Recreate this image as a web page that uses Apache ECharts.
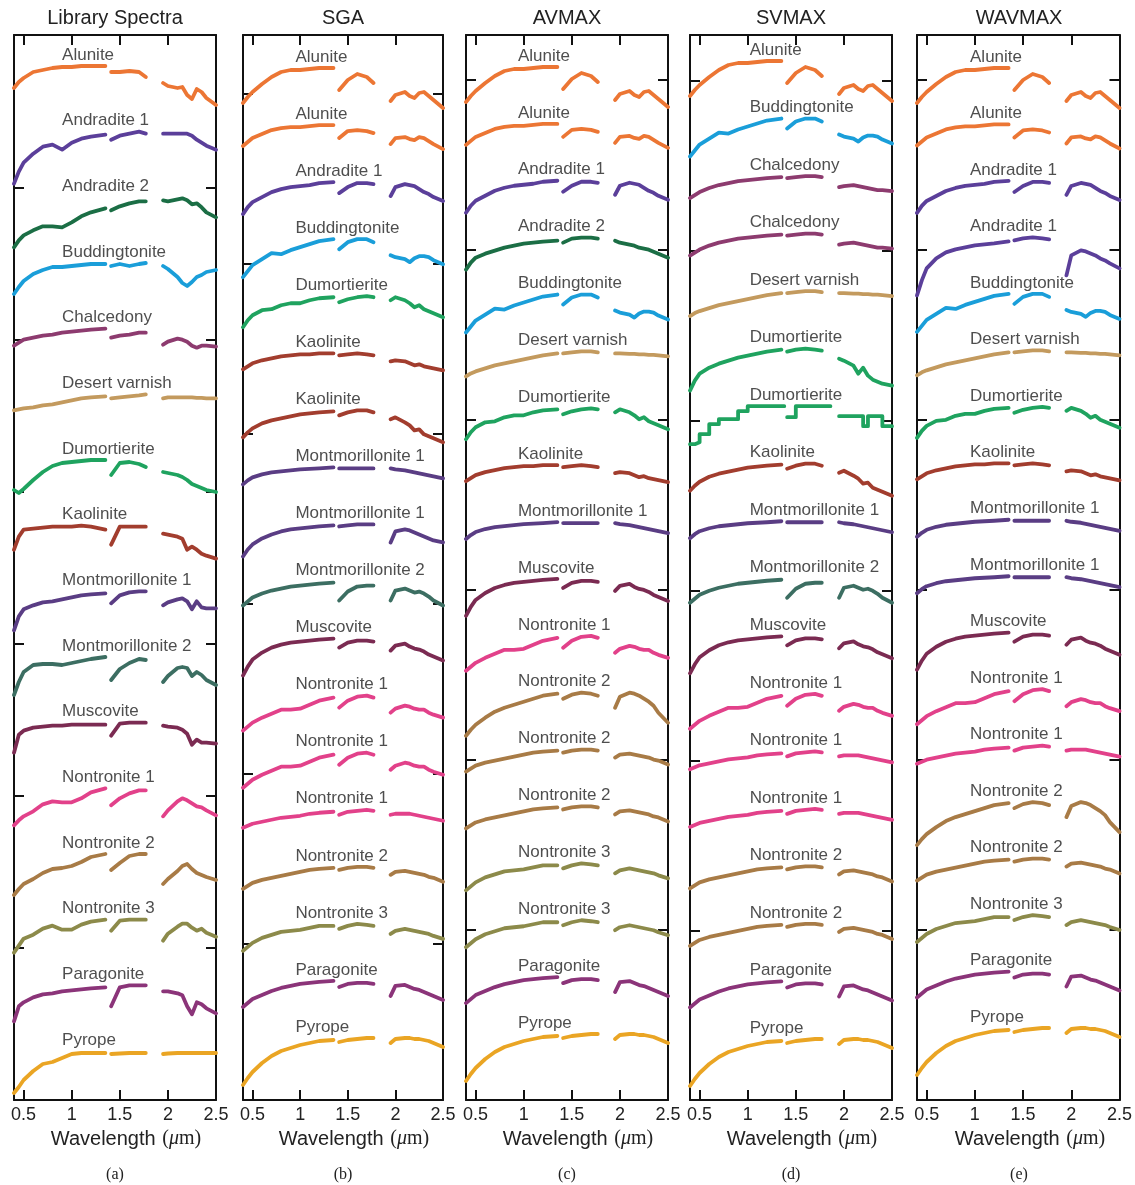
<!DOCTYPE html>
<html>
<head>
<meta charset="utf-8">
<script src="https://cdn.jsdelivr.net/npm/echarts@6/dist/echarts.min.js"></script>
<style>
  html, body { margin: 0; padding: 0; background: #fff; }
  #chart { width: 1135px; height: 1185px; }
</style>
</head>
<body>
<div id="chart"></div>
<script>
// wavelength grid (um); 1.38 and 1.86 are the water-band gaps
const wavelengths = [0.4, 0.45, 0.5, 0.6, 0.7, 0.8, 0.9, 1.0, 1.1, 1.2, 1.35, 1.38,
  1.41, 1.5, 1.6, 1.7, 1.77, 1.86, 1.95, 2.0, 2.1, 2.15, 2.2, 2.25, 2.3, 2.35, 2.4, 2.5];
const xTicks = [0.5, 1, 1.5, 2, 2.5];
const topTicks = [0.5, 1, 1.5, 2];
const panelTitles = ['Library Spectra', 'SGA', 'AVMAX', 'SVMAX', 'WAVMAX'];
const panelTags = ['(a)', '(b)', '(c)', '(d)', '(e)'];

const colors = {
  'Alunite': '#ec7634',
  'Andradite 1': '#5b3f9a',
  'Andradite 2': '#1b6e45',
  'Buddingtonite': '#1a9ed9',
  'Chalcedony': '#8d3b6f',
  'Desert varnish': '#c39a5e',
  'Dumortierite': '#1fa35f',
  'Kaolinite': '#a23d2e',
  'Montmorillonite 1': '#5a3d84',
  'Montmorillonite 2': '#3c6e62',
  'Muscovite': '#7b2b52',
  'Nontronite 1': '#e2418a',
  'Nontronite 2': '#a87b46',
  'Nontronite 3': '#8c8a4a',
  'Paragonite': '#8b3479',
  'Pyrope': '#eaa524'
};

// relative reflectance, library spectra (a)
const library = {
  alunite:          [0.56,0.68,0.76,0.88,0.92,0.96,0.98,0.98,1,1,1,null,0.88,0.88,0.9,0.88,0.78,null,0.66,0.6,0.56,0.58,0.42,0.34,0.54,0.48,0.36,0.22],
  andradite1:       [-0.04,0.2,0.38,0.56,0.7,0.74,0.64,0.78,0.86,0.9,0.94,null,0.84,0.92,0.96,1,0.96,null,0.96,0.96,0.96,0.96,0.96,0.92,0.84,0.78,0.72,0.64],
  andradite2:       [0,0.14,0.24,0.34,0.42,0.42,0.4,0.5,0.62,0.7,0.78,null,0.74,0.82,0.88,0.92,0.92,null,0.94,0.92,0.96,0.98,0.94,0.86,0.88,0.8,0.7,0.6],
  buddingtonite:    [0.38,0.52,0.64,0.78,0.86,0.92,0.92,0.94,0.96,0.98,0.98,null,0.94,0.98,0.94,0.98,1,null,0.94,0.88,0.72,0.6,0.54,0.62,0.72,0.76,0.82,0.86],
  chalcedony:       [0.66,0.72,0.78,0.82,0.86,0.88,0.92,0.94,0.96,0.98,1,null,0.82,0.86,0.88,0.92,0.92,null,0.68,0.74,0.8,0.78,0.74,0.66,0.62,0.66,0.66,0.64],
  desertVarnish:    [0.68,0.7,0.72,0.74,0.78,0.8,0.84,0.88,0.92,0.94,0.96,null,0.92,0.94,0.96,0.98,1,null,0.92,0.94,0.94,0.94,0.94,0.94,0.93,0.93,0.92,0.92],
  dumortierite:     [0.4,0.34,0.42,0.6,0.76,0.88,0.94,0.96,0.98,1,1,null,0.7,0.94,0.96,0.92,0.86,null,0.76,0.74,0.7,0.66,0.6,0.52,0.48,0.44,0.4,0.36],
  kaolinite:        [0.52,0.78,0.92,0.94,0.96,0.98,0.98,0.98,1,0.98,0.92,null,0.62,0.98,0.98,0.98,0.98,null,0.84,0.82,0.78,0.74,0.52,0.58,0.52,0.44,0.4,0.34],
  montmorillonite1: [0.22,0.5,0.64,0.72,0.78,0.8,0.84,0.88,0.92,0.94,0.96,null,0.76,0.92,0.98,1,1,null,0.72,0.78,0.84,0.86,0.8,0.64,0.8,0.68,0.66,0.66],
  montmorillonite2: [0.24,0.5,0.7,0.84,0.86,0.86,0.84,0.88,0.92,0.96,1,null,0.54,0.76,0.88,0.96,0.94,null,0.5,0.62,0.78,0.8,0.78,0.62,0.7,0.64,0.54,0.44],
  muscovite:        [0.4,0.76,0.84,0.9,0.92,0.94,0.94,0.96,0.96,0.96,0.96,null,0.74,0.98,1,1,1,null,0.94,0.92,0.9,0.86,0.78,0.56,0.66,0.6,0.6,0.58],
  nontronite1:      [0.26,0.36,0.44,0.54,0.68,0.74,0.72,0.72,0.8,0.92,1,null,0.66,0.8,0.9,0.96,0.96,null,0.44,0.56,0.74,0.8,0.76,0.7,0.64,0.62,0.56,0.46],
  nontronite2:      [0.18,0.3,0.4,0.5,0.62,0.7,0.72,0.76,0.84,0.94,1,null,0.68,0.82,0.96,1,1,null,0.4,0.5,0.66,0.76,0.8,0.7,0.62,0.58,0.54,0.48],
  nontronite3:      [0.34,0.48,0.62,0.7,0.82,0.88,0.8,0.8,0.9,0.96,1,null,0.78,0.98,1,1,1,null,0.58,0.72,0.86,0.92,0.92,0.84,0.78,0.82,0.74,0.66],
  paragonite:       [0.28,0.58,0.66,0.76,0.82,0.84,0.88,0.9,0.92,0.94,0.96,null,0.58,0.96,1,1,1,null,0.88,0.88,0.84,0.8,0.58,0.42,0.66,0.62,0.54,0.44],
  pyrope:           [0.16,0.28,0.42,0.6,0.74,0.78,0.86,0.94,0.96,0.96,0.96,null,0.94,0.95,0.96,0.96,0.96,null,0.94,0.95,0.96,0.96,0.96,0.96,0.96,0.96,0.96,0.96]
};

// relative reflectance, estimated endmembers (b)-(e)
const estimated = {
  alunite:              [0.3,0.42,0.52,0.68,0.82,0.92,0.96,0.96,0.98,1,1,null,0.56,0.76,0.88,0.82,0.7,null,0.34,0.46,0.52,0.44,0.4,0.5,0.52,0.44,0.36,0.2],
  alunite2:             [0.58,0.66,0.74,0.82,0.9,0.94,0.96,0.96,0.98,1,1,null,0.74,0.88,0.9,0.88,0.84,null,0.62,0.74,0.76,0.72,0.7,0.76,0.74,0.68,0.62,0.52],
  andradite1:           [0.36,0.5,0.6,0.7,0.8,0.86,0.9,0.92,0.94,0.98,1,null,0.78,0.9,0.98,0.98,0.96,null,0.72,0.9,0.96,0.94,0.92,0.86,0.8,0.76,0.7,0.62],
  andradite1Steep:      [-0.16,0.14,0.38,0.58,0.7,0.76,0.8,0.84,0.86,0.88,0.92,null,0.94,0.98,1,0.98,0.96,null,0.24,0.64,0.74,0.72,0.68,0.64,0.58,0.54,0.48,0.38],
  andradite2:           [0.36,0.5,0.6,0.68,0.74,0.8,0.84,0.88,0.9,0.92,0.94,null,0.9,0.98,1,1,0.98,null,0.94,0.9,0.86,0.84,0.8,0.78,0.76,0.72,0.68,0.6],
  buddingtonite:        [0.24,0.36,0.48,0.6,0.72,0.7,0.78,0.84,0.9,0.96,1,null,0.8,0.94,1,1,0.94,null,0.68,0.64,0.6,0.54,0.62,0.66,0.66,0.64,0.58,0.5],
  chalcedony:           [0.56,0.62,0.68,0.76,0.82,0.86,0.9,0.92,0.94,0.96,0.98,null,0.96,0.98,1,1,0.98,null,0.78,0.8,0.82,0.8,0.78,0.76,0.74,0.72,0.72,0.7],
  desertVarnish:        [0.5,0.56,0.6,0.66,0.72,0.76,0.8,0.84,0.88,0.92,0.96,null,0.96,0.98,1,1,0.98,null,0.96,0.96,0.95,0.95,0.94,0.94,0.93,0.93,0.92,0.9],
  dumortierite:         [0.38,0.52,0.62,0.72,0.74,0.82,0.86,0.86,0.92,0.96,0.98,null,0.88,0.94,0.98,1,0.98,null,0.92,0.98,0.92,0.86,0.78,0.82,0.74,0.7,0.66,0.58],
  dumortierite2:        [0.16,0.36,0.5,0.62,0.7,0.76,0.82,0.86,0.9,0.94,0.98,null,0.94,0.98,1,0.98,0.96,null,0.8,0.76,0.66,0.5,0.62,0.46,0.38,0.34,0.3,0.26],
  dumortieriteStep:     [0.24,0.28,0.44,0.64,0.74,0.74,0.9,1,1,1,1,null,0.78,1,1,1,1,null,0.8,0.8,0.8,0.8,0.6,0.8,0.8,0.8,0.6,0.6],
  kaolinite:            [0.68,0.74,0.8,0.86,0.9,0.94,0.96,0.98,0.98,1,1,null,0.96,0.98,1,0.98,0.96,null,0.84,0.86,0.84,0.8,0.76,0.78,0.74,0.72,0.7,0.66],
  kaolinite2:           [0.46,0.56,0.64,0.74,0.8,0.84,0.88,0.92,0.94,0.96,0.98,null,0.9,0.96,1,1,0.96,null,0.82,0.86,0.76,0.7,0.6,0.62,0.52,0.48,0.44,0.36],
  montmorillonite1:     [0.66,0.74,0.8,0.86,0.9,0.92,0.94,0.96,0.97,0.98,1,null,0.98,0.98,0.98,0.98,0.98,null,0.98,0.96,0.94,0.92,0.9,0.88,0.86,0.84,0.82,0.78],
  montmorillonite1Rise: [0.36,0.5,0.6,0.72,0.8,0.86,0.9,0.92,0.94,0.96,0.98,null,0.96,0.98,1,1,1,null,0.64,0.86,0.9,0.88,0.84,0.8,0.76,0.72,0.68,0.64],
  montmorillonite2:     [0.52,0.6,0.68,0.76,0.82,0.86,0.9,0.92,0.94,0.96,0.98,null,0.62,0.8,0.9,0.92,0.92,null,0.62,0.82,0.86,0.82,0.78,0.8,0.76,0.7,0.62,0.52],
  muscovite:            [0.26,0.44,0.58,0.72,0.82,0.88,0.92,0.94,0.96,0.98,1,null,0.82,0.92,0.96,0.96,0.94,null,0.76,0.86,0.9,0.84,0.8,0.78,0.74,0.68,0.64,0.56],
  nontronite1:          [0.3,0.38,0.46,0.56,0.64,0.72,0.72,0.74,0.82,0.9,0.96,null,0.76,0.9,0.98,1,0.96,null,0.66,0.74,0.8,0.78,0.74,0.72,0.72,0.66,0.62,0.56],
  nontronite1Flat:      [0.64,0.68,0.72,0.76,0.8,0.84,0.86,0.88,0.92,0.94,0.96,null,0.9,0.96,0.98,1,0.98,null,0.9,0.92,0.92,0.92,0.9,0.88,0.86,0.84,0.82,0.78],
  nontronite2:          [0.56,0.62,0.68,0.74,0.78,0.82,0.86,0.9,0.94,0.96,0.98,null,0.94,0.98,1,1,0.98,null,0.84,0.9,0.92,0.9,0.88,0.86,0.84,0.8,0.78,0.7],
  nontronite2Hump:      [0.14,0.26,0.36,0.5,0.62,0.7,0.76,0.82,0.88,0.94,0.98,null,0.88,0.96,1,0.98,0.94,null,0.7,0.92,1,0.98,0.94,0.88,0.82,0.74,0.6,0.4],
  nontronite3:          [0.46,0.54,0.62,0.72,0.78,0.84,0.86,0.88,0.92,0.96,0.96,null,0.9,0.96,1,0.98,0.96,null,0.8,0.86,0.9,0.88,0.86,0.84,0.82,0.8,0.76,0.7],
  paragonite:           [0.48,0.56,0.64,0.72,0.8,0.86,0.9,0.94,0.96,0.98,1,null,0.88,0.94,0.96,0.96,0.94,null,0.7,0.9,0.92,0.88,0.84,0.82,0.78,0.74,0.7,0.62],
  pyrope:               [0.06,0.2,0.32,0.5,0.64,0.74,0.8,0.86,0.9,0.94,0.96,null,0.92,0.96,0.98,1,1,null,0.9,0.98,1,1,0.98,0.98,0.96,0.94,0.9,0.82]
};

// [label, spectrum] from top to bottom
const libraryRows = [
  ['Alunite', 'alunite'], ['Andradite 1', 'andradite1'], ['Andradite 2', 'andradite2'],
  ['Buddingtonite', 'buddingtonite'], ['Chalcedony', 'chalcedony'], ['Desert varnish', 'desertVarnish'],
  ['Dumortierite', 'dumortierite'], ['Kaolinite', 'kaolinite'], ['Montmorillonite 1', 'montmorillonite1'],
  ['Montmorillonite 2', 'montmorillonite2'], ['Muscovite', 'muscovite'], ['Nontronite 1', 'nontronite1'],
  ['Nontronite 2', 'nontronite2'], ['Nontronite 3', 'nontronite3'], ['Paragonite', 'paragonite'], ['Pyrope', 'pyrope']
];
const sgaRows = [
  ['Alunite', 'alunite'], ['Alunite', 'alunite2'], ['Andradite 1', 'andradite1'], ['Buddingtonite', 'buddingtonite'],
  ['Dumortierite', 'dumortierite'], ['Kaolinite', 'kaolinite'], ['Kaolinite', 'kaolinite2'],
  ['Montmorillonite 1', 'montmorillonite1'], ['Montmorillonite 1', 'montmorillonite1Rise'],
  ['Montmorillonite 2', 'montmorillonite2'], ['Muscovite', 'muscovite'], ['Nontronite 1', 'nontronite1'],
  ['Nontronite 1', 'nontronite1'], ['Nontronite 1', 'nontronite1Flat'], ['Nontronite 2', 'nontronite2'],
  ['Nontronite 3', 'nontronite3'], ['Paragonite', 'paragonite'], ['Pyrope', 'pyrope']
];
const avmaxRows = [
  ['Alunite', 'alunite'], ['Alunite', 'alunite2'], ['Andradite 1', 'andradite1'], ['Andradite 2', 'andradite2'],
  ['Buddingtonite', 'buddingtonite'], ['Desert varnish', 'desertVarnish'], ['Dumortierite', 'dumortierite'],
  ['Kaolinite', 'kaolinite'], ['Montmorillonite 1', 'montmorillonite1'], ['Muscovite', 'muscovite'],
  ['Nontronite 1', 'nontronite1'], ['Nontronite 2', 'nontronite2Hump'], ['Nontronite 2', 'nontronite2'],
  ['Nontronite 2', 'nontronite2'], ['Nontronite 3', 'nontronite3'], ['Nontronite 3', 'nontronite3'],
  ['Paragonite', 'paragonite'], ['Pyrope', 'pyrope']
];
const svmaxRows = [
  ['Alunite', 'alunite'], ['Buddingtonite', 'buddingtonite'], ['Chalcedony', 'chalcedony'], ['Chalcedony', 'chalcedony'],
  ['Desert varnish', 'desertVarnish'], ['Dumortierite', 'dumortierite2'], ['Dumortierite', 'dumortieriteStep'],
  ['Kaolinite', 'kaolinite2'], ['Montmorillonite 1', 'montmorillonite1'], ['Montmorillonite 2', 'montmorillonite2'],
  ['Muscovite', 'muscovite'], ['Nontronite 1', 'nontronite1'], ['Nontronite 1', 'nontronite1Flat'],
  ['Nontronite 1', 'nontronite1Flat'], ['Nontronite 2', 'nontronite2'], ['Nontronite 2', 'nontronite2'],
  ['Paragonite', 'paragonite'], ['Pyrope', 'pyrope']
];
const wavmaxRows = [
  ['Alunite', 'alunite'], ['Alunite', 'alunite2'], ['Andradite 1', 'andradite1'], ['Andradite 1', 'andradite1Steep'],
  ['Buddingtonite', 'buddingtonite'], ['Desert varnish', 'desertVarnish'], ['Dumortierite', 'dumortierite'],
  ['Kaolinite', 'kaolinite'], ['Montmorillonite 1', 'montmorillonite1'], ['Montmorillonite 1', 'montmorillonite1'],
  ['Muscovite', 'muscovite'], ['Nontronite 1', 'nontronite1'], ['Nontronite 1', 'nontronite1Flat'],
  ['Nontronite 2', 'nontronite2Hump'], ['Nontronite 2', 'nontronite2'], ['Nontronite 3', 'nontronite3'],
  ['Paragonite', 'paragonite'], ['Pyrope', 'pyrope']
];

// layout (pixels)
const GRID_TOP = 35;
const GRID_H = 1065;
const AMP = 50; // pixels per unit reflectance
const SANS = 'Liberation Sans, Arial, sans-serif';
const SERIF = 'Liberation Serif, Times New Roman, serif';
const panels = [
  {rows: libraryRows, shapes: library,   left: 14,  width: 202, labelX: 0.9,  firstTop: 31, lastTop: 1016, yTicks: [153, 305, 457, 609, 761, 913]},
  {rows: sgaRows,     shapes: estimated, left: 243, width: 200, labelX: 0.95, firstTop: 33, lastTop: 1003, yTicks: [59, 229, 399, 569, 739, 909]},
  {rows: avmaxRows,   shapes: estimated, left: 466, width: 202, labelX: 0.94, firstTop: 32, lastTop: 999,  yTicks: [45, 215, 385, 555, 725, 895]},
  {rows: svmaxRows,   shapes: estimated, left: 690, width: 202, labelX: 1.02, firstTop: 26, lastTop: 1004, yTicks: [46, 216, 386, 556, 726, 896]},
  {rows: wavmaxRows,  shapes: estimated, left: 917, width: 204, labelX: 0.95, firstTop: 33, lastTop: 993,  yTicks: [45, 215, 385, 555, 725, 895]}
];

const frame = {show: true, onZero: false, lineStyle: {color: '#111', width: 2}};
const tickStyle = {color: '#111', width: 2};

const grid = [], xAxis = [], yAxis = [], series = [], graphic = [];

panels.forEach((p, pi) => {
  grid.push({left: p.left, top: GRID_TOP, width: p.width, height: GRID_H});
  xAxis.push({
    gridIndex: pi, type: 'value', min: 0.4, max: 2.5, position: 'bottom',
    axisLine: frame,
    axisTick: {show: true, inside: true, length: 10, customValues: xTicks, lineStyle: tickStyle},
    axisLabel: {show: true, customValues: xTicks, fontSize: 18, color: '#222', fontFamily: SANS, margin: 6,
      formatter: v => String(v)},
    splitLine: {show: false}
  });
  xAxis.push({
    gridIndex: pi, type: 'value', min: 0.4, max: 2.5, position: 'top',
    axisLine: frame,
    axisTick: {show: true, inside: true, length: 10, customValues: topTicks, lineStyle: tickStyle},
    axisLabel: {show: false}, splitLine: {show: false}
  });
  ['left', 'right'].forEach(pos => {
    yAxis.push({
      gridIndex: pi, type: 'value', inverse: true, min: 0, max: GRID_H, position: pos,
      axisLine: frame,
      axisTick: {show: true, inside: true, length: 10, customValues: p.yTicks, lineStyle: tickStyle},
      axisLabel: {show: false}, splitLine: {show: false}
    });
  });

  const gap = (p.lastTop - p.firstTop) / (p.rows.length - 1);
  const labels = [];
  p.rows.forEach(([name, key], i) => {
    const top = p.firstTop + i * gap;
    const shape = p.shapes[key];
    series.push({
      type: 'line', xAxisIndex: pi * 2, yAxisIndex: pi * 2,
      data: wavelengths.map((w, k) => [w, shape[k] == null ? '-' : top + (1 - shape[k]) * AMP]),
      step: key === 'dumortieriteStep' ? 'end' : false,
      symbol: 'none', connectNulls: false, silent: true,
      lineStyle: {color: colors[name], width: 3.8, cap: 'round', join: 'round'}
    });
    labels.push([p.labelX, top - 11, name]);
  });
  series.push({
    type: 'scatter', xAxisIndex: pi * 2, yAxisIndex: pi * 2, z: 5,
    symbolSize: 0, silent: true, data: labels,
    label: {show: true, position: 'right', distance: 0, formatter: d => d.data[2],
      fontSize: 17, color: '#222', fontFamily: SANS}
  });

  const cx = p.left + p.width / 2;
  graphic.push({type: 'text', x: cx, y: 18, silent: true,
    style: {text: panelTitles[pi], align: 'center', verticalAlign: 'middle', fontSize: 20, fontFamily: SANS, fill: '#222'}});
  graphic.push({type: 'text', x: cx + 11, y: 1139, silent: true,
    style: {text: '{a|Wavelength}  {b|(}{c|μ}{b|m)}', align: 'center', verticalAlign: 'middle',
      rich: {
        a: {fontSize: 20, fontFamily: SANS, fill: '#222'},
        b: {fontSize: 20, fontFamily: SERIF, fill: '#222'},
        c: {fontSize: 20, fontFamily: SERIF, fontStyle: 'italic', fill: '#222'}
      }}});
  graphic.push({type: 'text', x: cx, y: 1175, silent: true,
    style: {text: panelTags[pi], align: 'center', verticalAlign: 'middle', fontSize: 16, fontFamily: SERIF, fill: '#222'}});
});

const chart = echarts.init(document.getElementById('chart'));
chart.setOption({
  animation: false,
  backgroundColor: '#fff',
  grid, xAxis, yAxis, series, graphic
});
</script>
</body>
</html>
